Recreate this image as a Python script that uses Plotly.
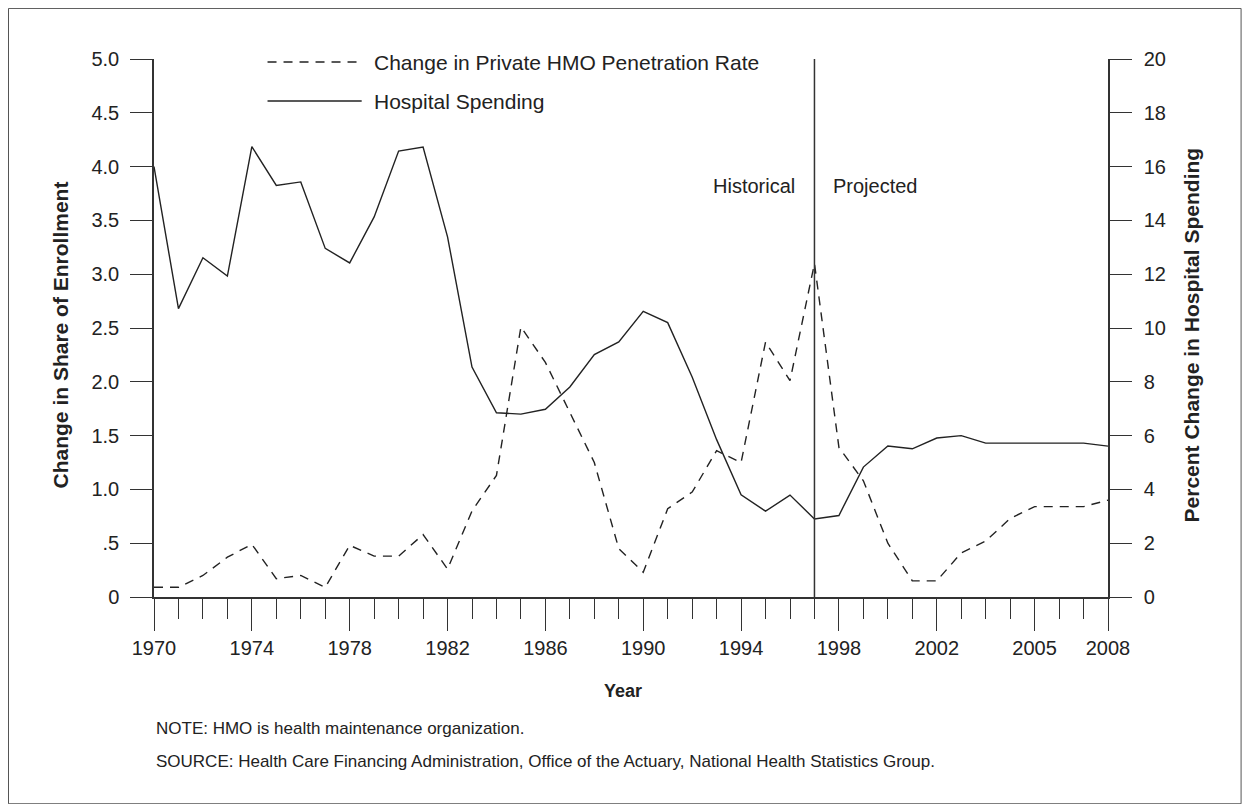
import plotly.graph_objects as go

# ---- data ----
years = list(range(1970, 2010))  # yearly tick positions on the axis

hospital_spending = [
    16.00, 10.72, 12.61, 11.93, 16.74, 15.30, 15.43, 12.96, 12.42, 14.13,
    16.58, 16.73, 13.39, 8.55, 6.85, 6.80, 6.98, 7.81, 9.01, 9.48,
    10.62, 10.20, 8.18, 5.85, 3.80, 3.19, 3.79, 2.90, 3.03, 4.83,
    5.61, 5.51, 5.91, 6.00, 5.72, 5.72, 5.72, 5.72, 5.72, 5.61,
]

hmo_change = [
    0.09, 0.09, 0.20, 0.37, 0.49, 0.17, 0.20, 0.09, 0.48, 0.38,
    0.38, 0.58, 0.26, 0.80, 1.13, 2.51, 2.18, 1.72, 1.25, 0.45,
    0.23, 0.82, 0.975, 1.36, 1.25, 2.37, 2.01, 3.10, 1.39, 1.08,
    0.50, 0.15, 0.15, 0.41, 0.52, 0.73, 0.84, 0.84, 0.84, 0.90,
]

x_tick_positions = [1970, 1974, 1978, 1982, 1986, 1990, 1994, 1998, 2002, 2006, 2009]
x_tick_labels = ["1970", "1974", "1978", "1982", "1986", "1990", "1994", "1998", "2002", "2005", "2008"]

left_tick_values = [0, 0.5, 1.0, 1.5, 2.0, 2.5, 3.0, 3.5, 4.0, 4.5, 5.0]
left_tick_labels = ["0", ".5", "1.0", "1.5", "2.0", "2.5", "3.0", "3.5", "4.0", "4.5", "5.0"]
right_tick_values = [0, 2, 4, 6, 8, 10, 12, 14, 16, 18, 20]

boundary_year = 1997

series_names = ["Change in Private HMO Penetration Rate", "Hospital Spending"]
note_text = "NOTE: HMO is health maintenance organization."
source_text = "SOURCE: Health Care Financing Administration, Office of the Actuary, National Health Statistics Group."

# ---- style ----
FONT = "Liberation Sans, Arial, Helvetica, sans-serif"
INK = "#222222"
AXC = "#333333"
TICKFONT = 20
TEXTFONT = 20

fig = go.Figure()

fig.add_trace(go.Scatter(
    x=years, y=hmo_change, mode="lines", name=series_names[0],
    line=dict(color=INK, width=1.4, dash="9px,7px"), yaxis="y",
    showlegend=False,
))
fig.add_trace(go.Scatter(
    x=years, y=hospital_spending, mode="lines", name=series_names[1],
    line=dict(color=INK, width=1.4), yaxis="y2",
    showlegend=False,
))

fig.update_layout(
    width=1234, height=796,
    margin=dict(l=146, r=134, t=51, b=207),
    paper_bgcolor="white", plot_bgcolor="white",
    font=dict(family=FONT, size=TEXTFONT, color=INK),
    xaxis=dict(
        range=[1970, 2009], showgrid=False, zeroline=False,
        showline=True, linecolor=AXC, linewidth=1.5,
        tickmode="array", tickvals=x_tick_positions, ticktext=x_tick_labels,
        ticks="outside", ticklen=32, tickwidth=1.3, tickcolor=AXC,
        minor=dict(tickmode="linear", tick0=1970, dtick=1, ticks="outside",
                   ticklen=20, tickwidth=1.3, tickcolor=AXC, showgrid=False),
        tickfont=dict(size=TICKFONT, family=FONT, color=INK),
    ),
    yaxis=dict(
        range=[0, 5], showgrid=False, zeroline=False,
        showline=True, linecolor=AXC, linewidth=1.5,
        tickmode="array", tickvals=left_tick_values, ticktext=left_tick_labels,
        ticks="outside", ticklen=22, tickwidth=1.3, tickcolor=AXC,
        ticklabelstandoff=7,
        tickfont=dict(size=TICKFONT, family=FONT, color=INK),
    ),
    yaxis2=dict(
        range=[0, 20], overlaying="y", side="right", showgrid=False, zeroline=False,
        showline=True, linecolor=AXC, linewidth=1.5,
        tickmode="array", tickvals=right_tick_values,
        ticks="outside", ticklen=22, tickwidth=1.3, tickcolor=AXC,
        ticklabelstandoff=8,
        tickfont=dict(size=TICKFONT, family=FONT, color=INK),
    ),
)

shapes = []
# Historical / Projected divider
shapes.append(dict(type="line", xref="x", yref="paper", x0=boundary_year, x1=boundary_year,
                   y0=0, y1=1, line=dict(color=AXC, width=1.5)))
# legend samples
shapes.append(dict(type="line", xref="paper", yref="paper", x0=0.119, x1=0.2177,
                   y0=0.9944, y1=0.9944, line=dict(color=INK, width=1.4, dash="9px,7px")))
shapes.append(dict(type="line", xref="paper", yref="paper", x0=0.119, x1=0.2177,
                   y0=0.9219, y1=0.9219, line=dict(color=INK, width=1.4)))
# outer frame around the whole figure
shapes.append(dict(type="rect", xref="paper", yref="paper", x0=-0.1525, x1=1.1395,
                   y0=-0.3843, y1=1.0940, line=dict(color="#555555", width=1)))
fig.update_layout(shapes=shapes)

annotations = [
    dict(xref="paper", yref="paper", x=0.2283, y=0.9944, text=series_names[0],
         showarrow=False, xanchor="left", yanchor="middle", font=dict(size=21)),
    dict(xref="paper", yref="paper", x=0.2283, y=0.9219, text=series_names[1],
         showarrow=False, xanchor="left", yanchor="middle", font=dict(size=21)),
    dict(xref="x", yref="paper", x=boundary_year, y=0.7637, text="Historical",
         showarrow=False, xanchor="right", yanchor="middle", xshift=-17, font=dict(size=TEXTFONT)),
    dict(xref="x", yref="paper", x=boundary_year, y=0.7637, text="Projected",
         showarrow=False, xanchor="left", yanchor="middle", xshift=17, font=dict(size=TEXTFONT)),
    dict(xref="paper", yref="paper", x=-0.097, y=0.487, text="<b>Change in Share of Enrollment</b>",
         showarrow=False, textangle=-90, xanchor="center", yanchor="middle", font=dict(size=21)),
    dict(xref="paper", yref="paper", x=1.0885, y=0.487, text="<b>Percent Change in Hospital Spending</b>",
         showarrow=False, textangle=-90, xanchor="center", yanchor="middle", font=dict(size=21)),
    dict(xref="paper", yref="paper", x=0.492, y=-0.175, text="<b>Year</b>",
         showarrow=False, xanchor="center", yanchor="middle", font=dict(size=18)),
    dict(xref="paper", yref="paper", x=0.0, y=-0.245, text=note_text,
         showarrow=False, xanchor="left", yanchor="middle", font=dict(size=17)),
    dict(xref="paper", yref="paper", x=0.0, y=-0.305, text=source_text,
         showarrow=False, xanchor="left", yanchor="middle", font=dict(size=17)),
]
fig.update_layout(annotations=annotations)

fig.write_html("out.html")
